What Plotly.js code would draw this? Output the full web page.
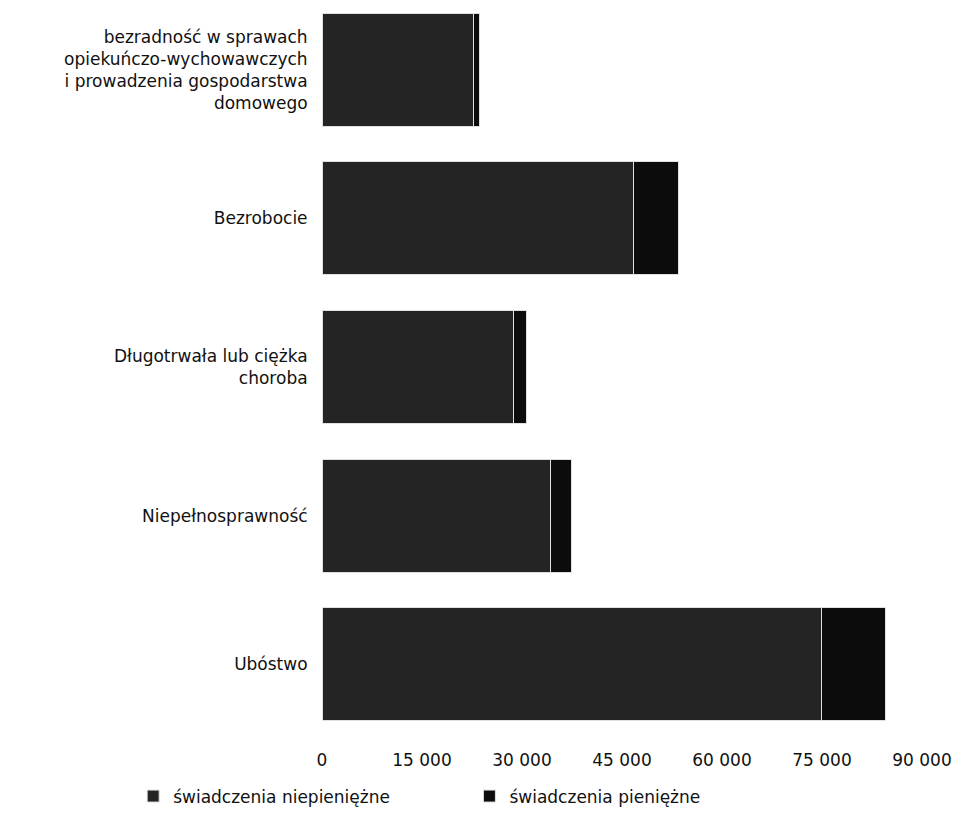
<!DOCTYPE html>
<html>
<head>
<meta charset="utf-8">
<script src="https://cdn.plot.ly/plotly-3.0.1.min.js"></script>
<style>html,body{margin:0;padding:0;background:#fff;}#chart{width:958px;height:822px;}</style>
</head>
<body>
<div id="chart"></div>
<script>
const categories = [
  "bezradność w sprawach<br>opiekuńczo-wychowawczych<br>i prowadzenia gospodarstwa<br>domowego",
  "Bezrobocie",
  "Długotrwała lub ciężka<br>choroba",
  "Niepełnosprawność",
  "Ubóstwo"
];
const seriesNames = ["świadczenia niepieniężne", "świadczenia pieniężne"];
const niepieniezne = [22650, 46650, 28650, 34200, 74850];
const pieniezne = [900, 6750, 1950, 3150, 9600];
const xTicks = [0, 15000, 30000, 45000, 60000, 75000, 90000];

const font = {family: "DejaVu Sans, sans-serif", size: 17, color: "#111"};

const traces = [
  {
    type: "bar", orientation: "h", name: seriesNames[0], legend: "legend",
    y: categories, x: niepieniezne,
    marker: {color: "#242424", line: {color: "#e0e0e0", width: 1}},
    hoverinfo: "x+name"
  },
  {
    type: "bar", orientation: "h", name: seriesNames[1], legend: "legend2",
    y: categories, x: pieniezne,
    marker: {color: "#0c0c0c", line: {color: "#e0e0e0", width: 1}},
    hoverinfo: "x+name"
  }
];

const legendBase = {
  orientation: "h", xref: "container", yref: "container",
  y: 0.031, xanchor: "left", yanchor: "middle",
  font: font, bgcolor: "rgba(0,0,0,0)"
};

const layout = {
  width: 958, height: 822,
  margin: {l: 322, r: 10, t: 0, b: 85},
  paper_bgcolor: "#fff", plot_bgcolor: "#fff",
  barmode: "stack", bargap: 0.24,
  font: font,
  separators: ", ",
  showlegend: true,
  legend: Object.assign({}, legendBase, {x: 0.139}),
  legend2: Object.assign({}, legendBase, {x: 0.490}),
  xaxis: {
    range: [0, 93900], tickvals: xTicks, tickformat: ",d",
    showgrid: false, zeroline: false, showline: false,
    ticks: "outside", ticklen: 8, tickcolor: "rgba(0,0,0,0)",
    tickfont: font
  },
  yaxis: {
    type: "category", range: [4.49, -0.47],
    showgrid: false, zeroline: false, showline: false,
    ticks: "outside", ticklen: 10, tickcolor: "rgba(0,0,0,0)",
    tickfont: font
  }
};

Plotly.newPlot("chart", traces, layout, {displayModeBar: false, staticPlot: true});
</script>
</body>
</html>
